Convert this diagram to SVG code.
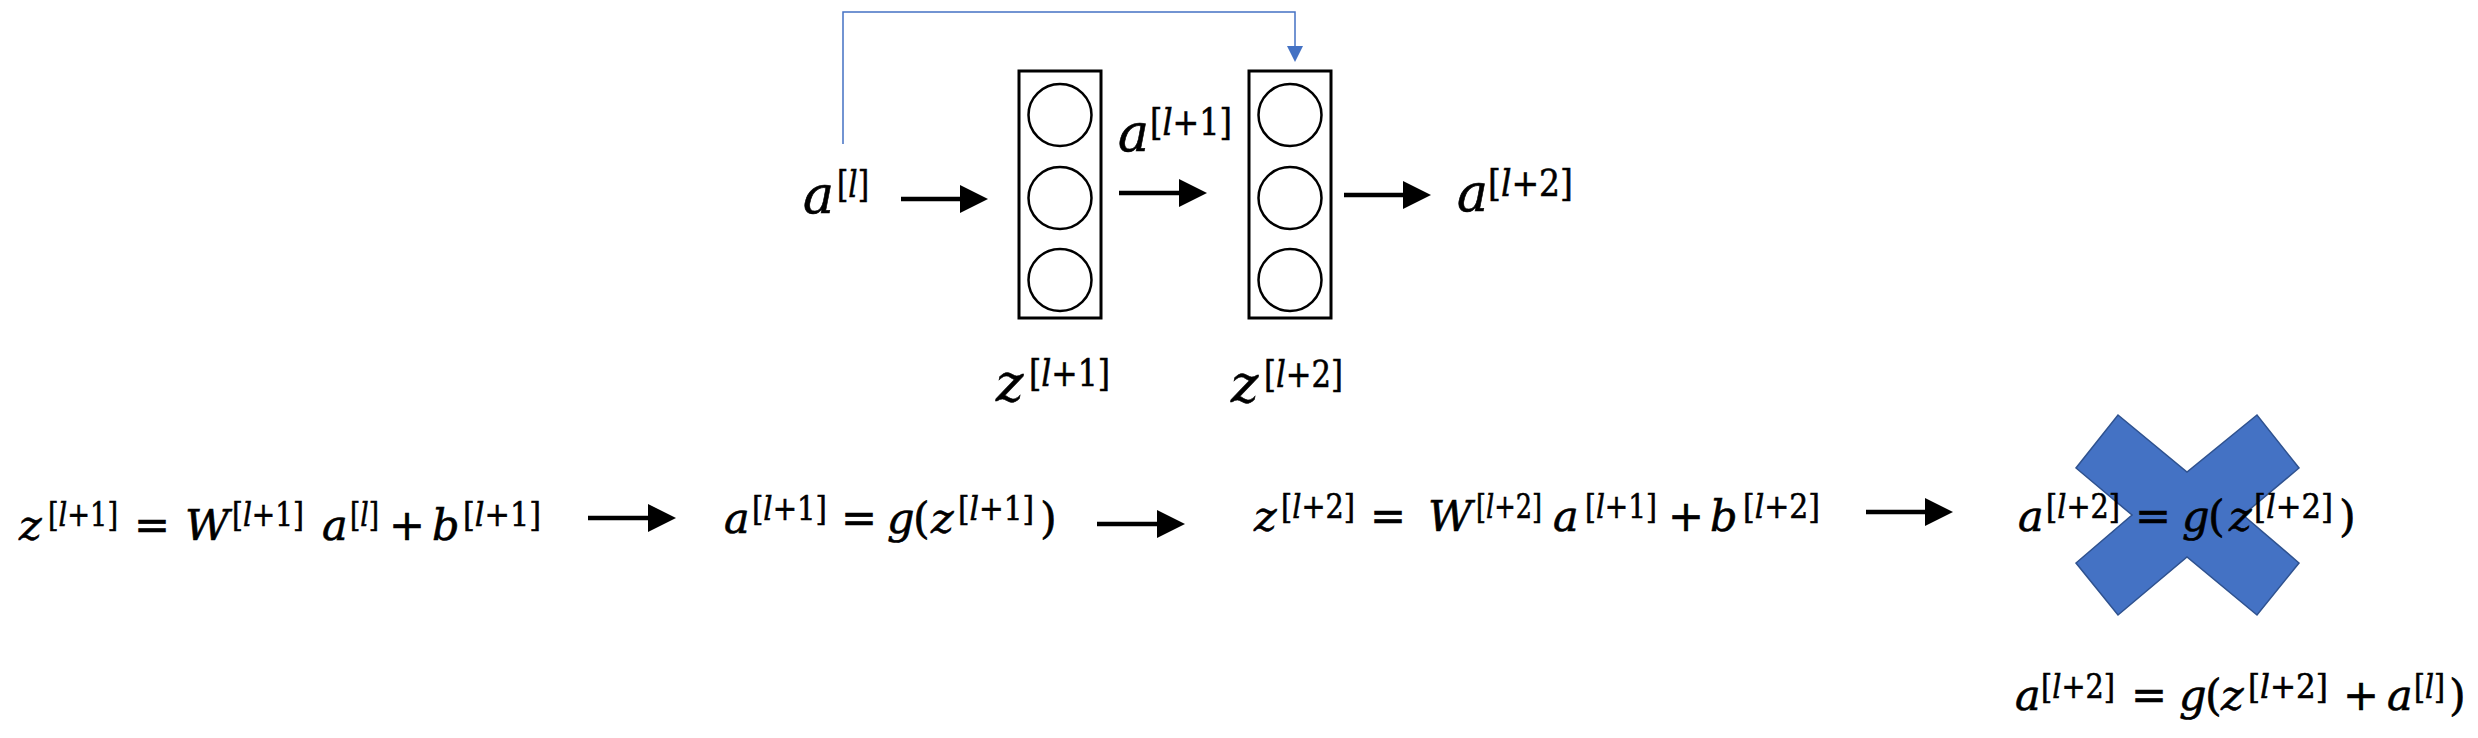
<svg xmlns="http://www.w3.org/2000/svg" width="2478" height="738" viewBox="0 0 2478 738">
<style>
text { font-family: "DejaVu Serif", "Liberation Serif", serif; fill: #000; stroke: #000; stroke-width: 0.6; }
.i { font-style: italic; }
.tb { font-size: 52px; font-style: italic; }
.ts { font-size: 38px; }
.bb { font-size: 43px; font-style: italic; }
.bs { font-size: 34px; }
.op { font-size: 43px; text-anchor: middle; }
.pr { font-size: 43px; }
.box { fill: none; stroke: #000; stroke-width: 3; }
.neu { fill: none; stroke: #000; stroke-width: 2.5; }
.ln { stroke: #000; stroke-width: 4.5; fill: none; }
.hd { fill: #000; }
.skip { stroke: #4472C4; stroke-width: 1.5; fill: none; }
</style>

<g id="connectors">
  <path class="skip" d="M843,144 V12 H1295 V48"/>
  <polygon fill="#4472C4" points="1287,46 1303,46 1295,62"/>
  <line class="ln" x1="901" y1="199" x2="962" y2="199"/>
  <polygon class="hd" points="960,185 988,199 960,213"/>
  <line class="ln" x1="1119" y1="193" x2="1181" y2="193"/>
  <polygon class="hd" points="1179,179 1207,193 1179,207"/>
  <line class="ln" x1="1344" y1="195" x2="1405" y2="195"/>
  <polygon class="hd" points="1403,181 1431,195 1403,209"/>
  <line class="ln" x1="588" y1="518" x2="650" y2="518"/>
  <polygon class="hd" points="648,504 676,518 648,532"/>
  <line class="ln" x1="1097" y1="524" x2="1159" y2="524"/>
  <polygon class="hd" points="1157,510 1185,524 1157,538"/>
  <line class="ln" x1="1866" y1="512" x2="1927" y2="512"/>
  <polygon class="hd" points="1925,498 1953,512 1925,526"/>
</g>

<g id="layer1">
  <rect class="box" x="1019" y="71" width="82" height="247"/>
  <ellipse class="neu" cx="1060" cy="115" rx="31.5" ry="31"/>
  <ellipse class="neu" cx="1060" cy="198" rx="31.5" ry="31"/>
  <ellipse class="neu" cx="1060" cy="280" rx="31.5" ry="31"/>
</g>
<g id="layer2">
  <rect class="box" x="1249" y="71" width="82" height="247"/>
  <ellipse class="neu" cx="1290" cy="115" rx="31.5" ry="31"/>
  <ellipse class="neu" cx="1290" cy="198" rx="31.5" ry="31"/>
  <ellipse class="neu" cx="1290" cy="280" rx="31.5" ry="31"/>
</g>

<g id="label-al">
  <text class="tb" x="803" y="213">a</text>
  <text class="ts" x="837" y="197" textLength="32" lengthAdjust="spacingAndGlyphs">[<tspan class="i">l</tspan>]</text>
</g>
<g id="label-al1">
  <text class="tb" x="1118" y="151">a</text>
  <text class="ts" x="1150" y="135" textLength="82" lengthAdjust="spacingAndGlyphs">[<tspan class="i">l</tspan>+1]</text>
</g>
<g id="label-al2">
  <text class="tb" x="1457" y="211">a</text>
  <text class="ts" x="1488" y="196" textLength="85" lengthAdjust="spacingAndGlyphs">[<tspan class="i">l</tspan>+2]</text>
</g>
<g id="label-zl1">
  <text class="tb" x="996" y="401">z</text>
  <text class="ts" x="1029" y="386" textLength="81" lengthAdjust="spacingAndGlyphs">[<tspan class="i">l</tspan>+1]</text>
</g>
<g id="label-zl2">
  <text class="tb" x="1231" y="402">z</text>
  <text class="ts" x="1264" y="387" textLength="79" lengthAdjust="spacingAndGlyphs">[<tspan class="i">l</tspan>+2]</text>
</g>

<g id="eq1">
  <text class="bb" x="19" y="540">z</text>
  <text class="bs" x="48" y="526" textLength="70" lengthAdjust="spacingAndGlyphs">[<tspan class="i">l</tspan>+1]</text>
  <text class="op" x="152" y="540">=</text>
  <text class="bb" x="185" y="540">W</text>
  <text class="bs" x="232" y="526" textLength="72" lengthAdjust="spacingAndGlyphs">[<tspan class="i">l</tspan>+1]</text>
  <text class="bb" x="322" y="540">a</text>
  <text class="bs" x="350" y="526" textLength="29" lengthAdjust="spacingAndGlyphs">[<tspan class="i">l</tspan>]</text>
  <text class="op" x="407" y="540">+</text>
  <text class="bb" x="432" y="540">b</text>
  <text class="bs" x="463" y="526" textLength="78" lengthAdjust="spacingAndGlyphs">[<tspan class="i">l</tspan>+1]</text>
</g>

<g id="eq2">
  <text class="bb" x="724" y="533">a</text>
  <text class="bs" x="752" y="520" textLength="75" lengthAdjust="spacingAndGlyphs">[<tspan class="i">l</tspan>+1]</text>
  <text class="op" x="859" y="533">=</text>
  <text class="bb" x="887" y="533">g</text>
  <text class="pr" x="913" y="533">(</text>
  <text class="bb" x="931" y="533">z</text>
  <text class="bs" x="958" y="520" textLength="76" lengthAdjust="spacingAndGlyphs">[<tspan class="i">l</tspan>+1]</text>
  <text class="pr" x="1040" y="533">)</text>
</g>

<g id="eq3">
  <text class="bb" x="1254" y="531">z</text>
  <text class="bs" x="1281" y="518" textLength="74" lengthAdjust="spacingAndGlyphs">[<tspan class="i">l</tspan>+2]</text>
  <text class="op" x="1388" y="531">=</text>
  <text class="bb" x="1428" y="531">W</text>
  <text class="bs" x="1476" y="518" textLength="66" lengthAdjust="spacingAndGlyphs">[<tspan class="i">l</tspan>+2]</text>
  <text class="bb" x="1553" y="531">a</text>
  <text class="bs" x="1585" y="518" textLength="72" lengthAdjust="spacingAndGlyphs">[<tspan class="i">l</tspan>+1]</text>
  <text class="op" x="1686" y="531">+</text>
  <text class="bb" x="1710" y="531">b</text>
  <text class="bs" x="1743" y="518" textLength="77" lengthAdjust="spacingAndGlyphs">[<tspan class="i">l</tspan>+2]</text>
</g>

<g id="cross">
  <polygon fill="#4472C4" stroke="#2F528F" stroke-width="1.5" points="2118,415 2187,472 2257,415 2299,468 2243,515 2299,563 2257,615 2187,557 2118,615 2076,563 2132,515 2076,468"/>
</g>

<g id="eq4">
  <text class="bb" x="2018" y="531">a</text>
  <text class="bs" x="2046" y="518" textLength="74" lengthAdjust="spacingAndGlyphs">[<tspan class="i">l</tspan>+2]</text>
  <text class="op" x="2153" y="531">=</text>
  <text class="bb" x="2182" y="531">g</text>
  <text class="pr" x="2208" y="531">(</text>
  <text class="bb" x="2229" y="531">z</text>
  <text class="bs" x="2254" y="518" textLength="79" lengthAdjust="spacingAndGlyphs">[<tspan class="i">l</tspan>+2]</text>
  <text class="pr" x="2339" y="531">)</text>
</g>

<g id="eq5">
  <text class="bb" x="2015" y="710">a</text>
  <text class="bs" x="2041" y="698" textLength="74" lengthAdjust="spacingAndGlyphs">[<tspan class="i">l</tspan>+2]</text>
  <text class="op" x="2149" y="710">=</text>
  <text class="bb" x="2179" y="710">g</text>
  <text class="pr" x="2205" y="710">(</text>
  <text class="bb" x="2221" y="710">z</text>
  <text class="bs" x="2248" y="698" textLength="80" lengthAdjust="spacingAndGlyphs">[<tspan class="i">l</tspan>+2]</text>
  <text class="op" x="2361" y="710">+</text>
  <text class="bb" x="2387" y="710">a</text>
  <text class="bs" x="2414" y="698" textLength="31" lengthAdjust="spacingAndGlyphs">[<tspan class="i">l</tspan>]</text>
  <text class="pr" x="2449" y="710">)</text>
</g>
</svg>
